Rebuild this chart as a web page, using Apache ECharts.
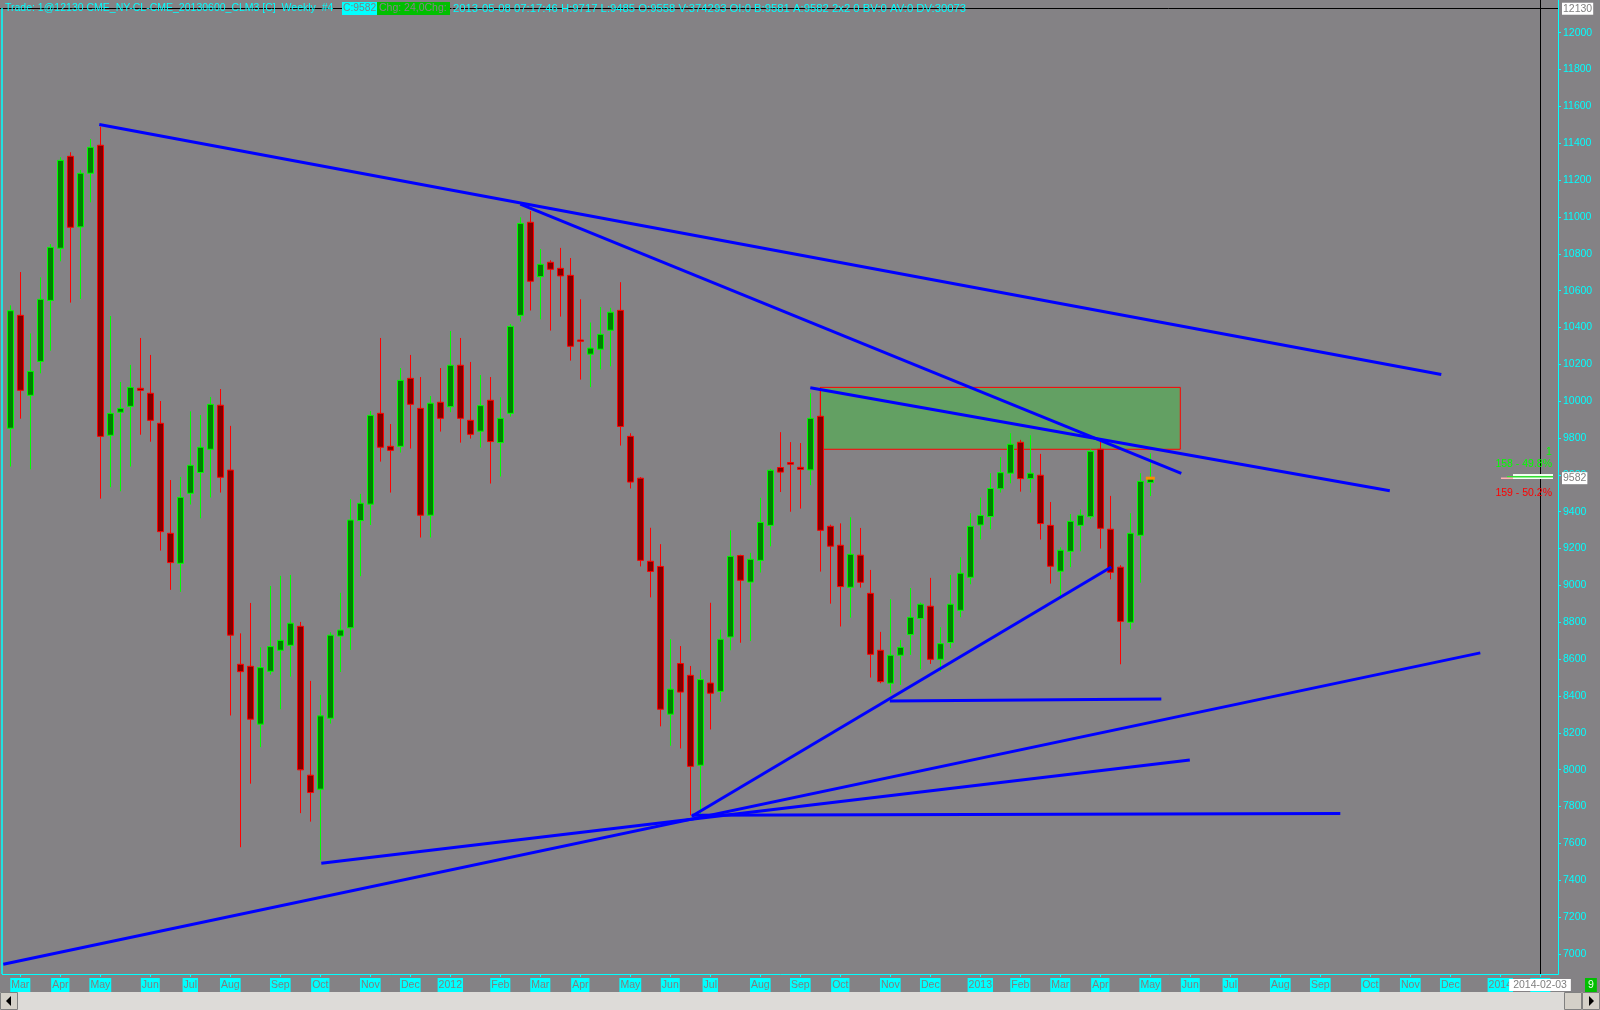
<!DOCTYPE html>
<html><head><meta charset="utf-8">
<script src="https://cdn.jsdelivr.net/npm/echarts@6/dist/echarts.min.js"></script>
<style>html,body{margin:0;padding:0;background:#848285;overflow:hidden}#c{width:1600px;height:1010px}</style>
</head><body><div id="c"></div>
<script>
// ---- data ----
const firstWeek = '2011-02-28';
const weekCount = 155;
const monthNames = ['Jan','Feb','Mar','Apr','May','Jun','Jul','Aug','Sep','Oct','Nov','Dec'];
const yTicks = [7000,7200,7400,7600,7800,8000,8200,8400,8600,8800,9000,9200,9400,9600,9800,10000,10200,10400,10600,10800,11000,11200,11400,11600,11800,12000];

const opens  = [9853,10466,10032,10216,10547,10830,11329,10946,11237,11389,9815,9940,9972,10070,10043,9880,9283,9120,9500,9613,9739,9978,9626,8572,8561,8247,8534,8648,8675,8778,7970,7894,8279,8725,8770,9352,9441,9934,9755,9755,10124,9961,9381,9994,9970,10195,9896,9837,10005,9775,9934,10466,10971,10676,10754,10721,10683,10332,10255,10282,10385,10493,9809,9582,9131,9103,8301,8576,8512,8024,8470,8425,8720,9162,9018,9136,9326,9640,9667,9641,9627,9918,9321,9218,8990,9164,8957,8648,8469,8621,8733,8820,8887,8599,8690,8865,9044,9328,9374,9525,9609,9777,9580,9598,9326,9077,9185,9326,9373,9739,9305,9099,8800,9272,9558];
const closes = [10491,10059,10162,10553,10835,11307,10944,11237,11378,9809,9934,9961,10075,10059,9896,9292,9124,9478,9652,9750,9983,9587,8730,8532,8274,8554,8668,8702,8795,7999,7876,8292,8730,8758,9355,9446,9923,9750,9733,10113,9983,9381,9989,9907,10195,9907,9820,9976,9781,9907,10406,10965,10651,10743,10716,10680,10298,10325,10288,10363,10483,9863,9561,9136,9076,8328,8437,8421,8018,8489,8415,8708,9158,9028,9142,9342,9625,9615,9658,9630,9907,9299,9213,8994,9169,9017,8626,8478,8621,8664,8827,8898,8599,8684,8898,9066,9321,9380,9526,9612,9766,9580,9609,9336,9104,9191,9348,9381,9728,9310,9071,8805,9283,9565,9582];
const lows   = [9645,9905,9630,10151,10274,10759,10535,10555,11079,9471,9533,9511,9645,9818,9780,9189,8976,8965,9439,9364,9477,9504,8294,7579,7924,8122,8516,8328,8505,7764,7718,7510,8250,8530,8650,9050,9328,9672,9504,9721,9743,9260,9260,9835,9940,9775,9797,9748,9553,9591,9916,10432,10492,10444,10383,10459,10220,10117,10076,10173,10189,9759,9526,9103,8935,8235,8130,8115,7752,7743,8218,8369,8648,8689,8698,9070,9212,9507,9400,9417,9544,9075,8901,8777,8825,8988,8500,8469,8415,8460,8623,8545,8574,8532,8659,8827,9006,9250,9305,9504,9554,9509,9504,9249,9010,8943,9099,9185,9360,9200,9033,8572,8762,9015,9485];
const highs  = [10520,10701,10368,10672,10853,11324,11351,11255,11423,11490,10462,10104,10197,10343,10251,10001,9572,9589,9945,9925,10023,10066,9866,8740,8905,8664,8997,9052,9057,8802,8482,8406,8746,8960,9468,9497,9947,10343,9876,10180,10251,10131,10028,10180,10381,10343,10213,10142,10131,10021,10419,10998,11032,10826,10765,10832,10777,10553,10427,10511,10507,10646,9826,9588,9313,9224,8708,8671,8563,8541,8906,8760,9299,9167,9177,9476,9633,9832,9778,9773,10043,10075,9330,9337,9370,9312,9084,8748,8925,8704,8986,8907,9041,8773,9057,9153,9392,9477,9609,9696,9826,9790,9815,9714,9453,9207,9388,9413,9739,9780,9486,9110,9392,9609,9717];

// trend lines: [startWeekIndex, startValue, endWeekIndex, endValue]
const trendLines = [
  [8.9, 11502, 143.1, 10145],
  [51.0, 11070, 117.1, 9608],
  [80.0, 10073, 137.95, 9514],
  [-0.7, 6944, 147.0, 8634],
  [31.1, 7492, 117.95, 8052],
  [87.95, 8373, 115.1, 8384],
  [68.15, 7747, 110.1, 9100],
  [68.15, 7752, 133.0, 7762]
];
// zone box: [leftWeek, topValue, rightWeek, bottomValue]
const zoneBox = [81.0, 10075, 117.0, 9739];
const lastPrice = 9582;
const topPrice = 12130;
const cursorWeek = 153;

// ---- build ----
const weeks = [];
{
  const d0 = Date.UTC(2011, 1, 28);
  for (let i = 0; i < weekCount; i++) {
    const d = new Date(d0 + i * 7 * 86400000);
    weeks.push(d.toISOString().slice(0, 10));
  }
}
const isMonthStart = (idx, val) => {
  const v = typeof val === 'string' ? val : weeks[idx];
  return parseInt(v.slice(8, 10), 10) <= 7;
};
const monthLabel = (val) => {
  const m = parseInt(val.slice(5, 7), 10) - 1;
  return m === 0 ? val.slice(0, 4) : monthNames[m];
};
const candles = opens.map((o, i) => [o, closes[i], lows[i], highs[i]]);

const FONT = 'Liberation Sans';
const CYAN = '#00ffff';

const series = [
  {
    type: 'line', xAxisIndex: 1, yAxisIndex: 0, data: [], z: 1, silent: true,
    markArea: {
      silent: true,
      itemStyle: { color: '#63a063', borderColor: '#ff0000', borderWidth: 1 },
      data: [[{ coord: [zoneBox[0], zoneBox[1]] }, { coord: [zoneBox[2], zoneBox[3]] }]]
    }
  },
  {
    type: 'candlestick', xAxisIndex: 0, yAxisIndex: 0, data: candles, barWidth: 7, z: 3,
    itemStyle: { color: '#008000', color0: '#800000', borderColor: '#00ff00', borderColor0: '#ff0000', borderWidth: 1 },
    markPoint: {
      silent: true, animation: false,
      data: [{ coord: [opens.length - 1, lastPrice], symbol: 'rect', symbolSize: [9, 3], itemStyle: { color: '#ff8c00' }, label: { show: false } }]
    }
  }
];
trendLines.forEach(t => {
  series.push({
    type: 'line', xAxisIndex: 1, yAxisIndex: 0, z: 5, silent: true,
    symbol: 'none', data: [[t[0], t[1]], [t[2], t[3]]],
    lineStyle: { color: '#0000ff', width: 3 }
  });
});

const chart = echarts.init(document.getElementById('c'), null, { renderer: 'canvas' });
const option = {
  animation: false,
  backgroundColor: '#848285',
  grid: { left: 5.3, width: 1550, top: 8, bottom: 36, containLabel: false },
  xAxis: [
    {
      type: 'category', data: weeks, boundaryGap: true,
      axisLine: { show: false, onZero: false },
      axisTick: { show: true, alignWithLabel: true, interval: isMonthStart, length: 3, lineStyle: { color: CYAN } },
      axisLabel: {
        interval: isMonthStart, formatter: monthLabel, color: '#7f7f7f', backgroundColor: CYAN,
        padding: [1, 1, 0, 1], fontSize: 10.5, fontFamily: FONT, margin: 4, lineHeight: 13
      },
      splitLine: { show: false }
    },
    { type: 'value', min: -0.5, max: weekCount - 0.5, show: false, axisLine: { onZero: false } }
  ],
  yAxis: [{
    type: 'value', position: 'right', min: 6891, max: 12134, offset: 2.7, scale: true,
    splitLine: { show: false },
    axisLine: { show: true, onZero: false, lineStyle: { color: CYAN, width: 1 } },
    axisTick: { show: true, length: 3, customValues: yTicks, lineStyle: { color: CYAN } },
    axisLabel: { customValues: yTicks, formatter: v => String(v), color: CYAN, fontSize: 10.5, fontFamily: FONT, margin: 5 }
  }],
  series: series
};
chart.setOption(option);

const yLast = chart.convertToPixel({ yAxisIndex: 0 }, lastPrice);
const yTop = chart.convertToPixel({ yAxisIndex: 0 }, topPrice);
const xCursor = chart.convertToPixel({ xAxisIndex: 1 }, cursorWeek);

const txt = (x, y, s, fill, extra, size) => Object.assign({
  type: 'text', x: x, y: y, silent: true, z: 100,
  style: Object.assign({ text: s, fill: fill, font: (size || 10.5) + 'px "' + FONT + '"', verticalAlign: 'middle' }, extra || {})
});
const ln = (x1, y1, x2, y2, c, w) => ({ type: 'line', silent: true, z: 90, shape: { x1, y1, x2, y2 }, style: { stroke: c, lineWidth: w || 1 } });
const rc = (x, y, w, h, fill, stroke) => ({ type: 'rect', silent: true, z: 95, shape: { x, y, width: w, height: h }, style: { fill: fill, stroke: stroke || null, lineWidth: 1 } });

chart.setOption({
  graphic: [
    ln(0, 8.5, 1558, 8.5, '#000000', 1),
    ln(2, 8, 2, 974, CYAN, 1.5),
    ln(2, 974.5, 1558.5, 974.5, CYAN, 1),
    ln(1558.5, 0, 1558.5, 974.5, CYAN, 1),
    ln(Math.round(xCursor) + 0.5, 0, Math.round(xCursor) + 0.5, 974, '#000000', 1),
    txt(5, 8.5, 'Trade: 1@12130 CME_NY-CL-CME_20130600_CLM3 [C]  Weekly  #4', CYAN, null, 10.5),
    rc(342, 2, 35, 13, CYAN),
    txt(343, 8.5, 'C:9582', '#7f7f7f', null, 10.3),
    rc(377, 2, 73, 13, '#00c000'),
    txt(379, 8.5, 'Chg: 24,0Chg: 24', '#8a7f8a', null, 10.5),
    txt(453, 8.5, '2013-05-08 07:17:46 H:9717 L:9485 O:9558 V:374293 OI:0 B:9581 A:9582 2x2 0 BV:0 AV:0 DV:30073', CYAN, null, 11.3),
    txt(1562, yTop, String(topPrice), '#7f7f7f', { backgroundColor: '#ffffff', padding: [1, 1, 0, 1] }),
    txt(1562, yLast, String(lastPrice), '#7f7f7f', { backgroundColor: '#ffffff', padding: [1, 1, 0, 1] }),
    txt(1546, 452, '1', '#00ff00'),
    txt(1552, 464, '158 - 49.8%', '#00ff00', { align: 'right' }),
    rc(1513, 474, 40, 5, '#f0fff0'),
    rc(1507, 476, 46, 1.5, '#30e030'),
    rc(1501, 477.5, 12, 1.5, '#ffb0b0'),
    txt(1552, 493, '159 - 50.2%', '#ff0000', { align: 'right' }),
    txt(Math.round(xCursor), 985, '2014-02-03', '#7f7f7f', { align: 'center', backgroundColor: '#ffffff', padding: [1, 4, 0, 4] }),
    txt(1585, 985, '9', '#e8ffe8', { backgroundColor: '#00c000', padding: [2, 3, 1, 3] }),
    rc(0, 992, 1600, 18, '#dddbd8'),
    rc(0.5, 992.5, 17, 17, '#d4d0c8', '#808080'),
    { type: 'polygon', silent: true, z: 99, shape: { points: [[11, 996], [11, 1006], [6, 1001]] }, style: { fill: '#000' } },
    rc(1564.5, 992.5, 17, 17, '#d4d0c8', '#808080'),
    rc(1582.5, 992.5, 17, 17, '#d4d0c8', '#808080'),
    { type: 'polygon', silent: true, z: 99, shape: { points: [[1589, 996], [1589, 1006], [1594, 1001]] }, style: { fill: '#000' } }
  ]
});
</script>
</body></html>
